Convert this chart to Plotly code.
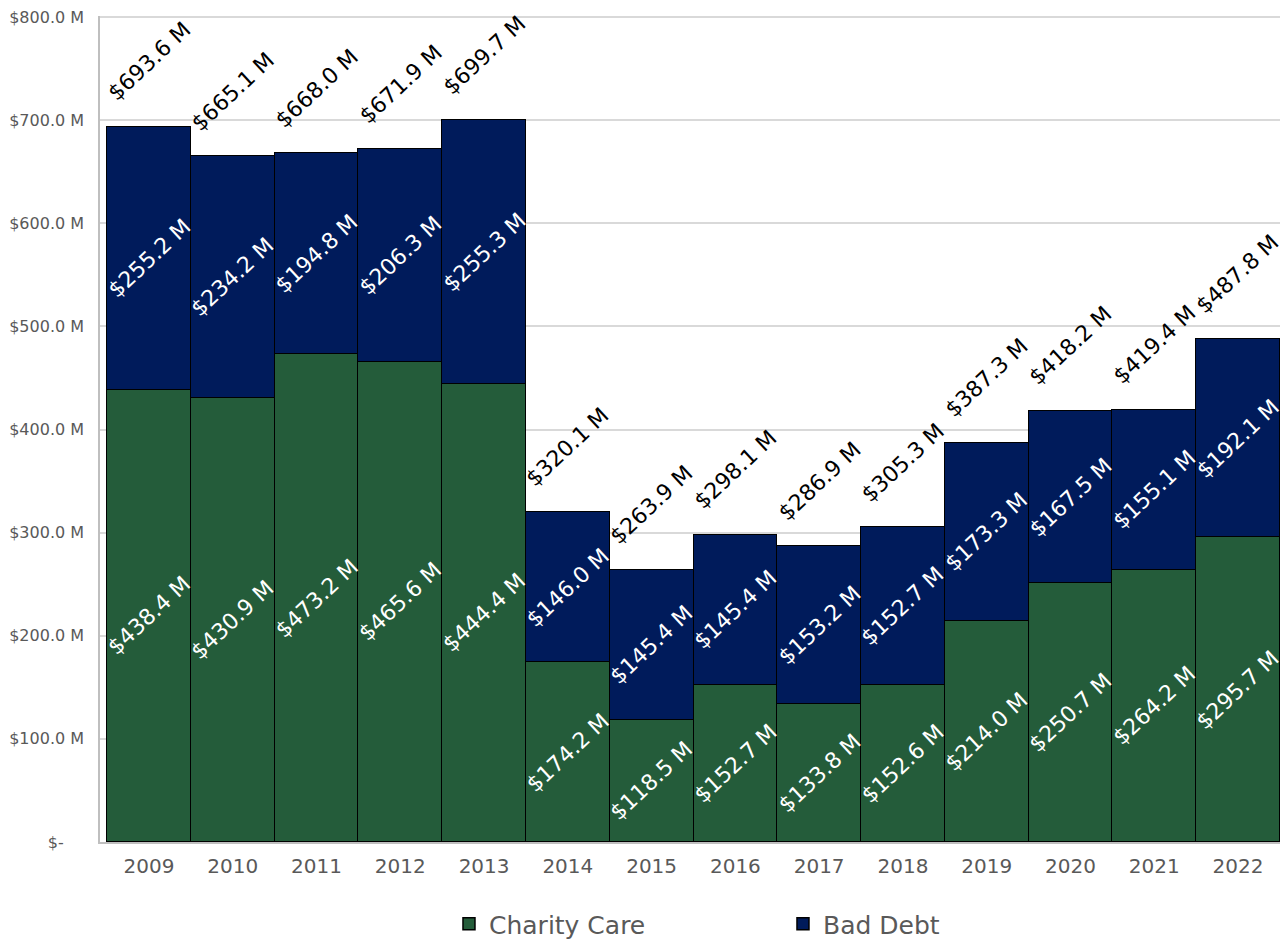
import plotly.graph_objects as go

years = ["2009", "2010", "2011", "2012", "2013", "2014", "2015", "2016",
         "2017", "2018", "2019", "2020", "2021", "2022"]
charity_care = [438.4, 430.9, 473.2, 465.6, 444.4, 174.2, 118.5, 152.7,
                133.8, 152.6, 214.0, 250.7, 264.2, 295.7]
bad_debt = [255.2, 234.2, 194.8, 206.3, 255.3, 146.0, 145.4, 145.4,
            153.2, 152.7, 173.3, 167.5, 155.1, 192.1]
totals = [693.6, 665.1, 668.0, 671.9, 699.7, 320.1, 263.9, 298.1,
          286.9, 305.3, 387.3, 418.2, 419.4, 487.8]
tick_vals = [0, 100, 200, 300, 400, 500, 600, 700, 800]
tick_text = ["$-\u2007\u2007", "$100.0 M", "$200.0 M", "$300.0 M", "$400.0 M",
             "$500.0 M", "$600.0 M", "$700.0 M", "$800.0 M"]

GREEN = "#245C3A"
NAVY = "#001B5B"
FONT = "DejaVu Sans"
ANGLE = -43
LBL = 22

fig = go.Figure()
fig.add_trace(go.Bar(x=years, y=charity_care, name="Charity Care",
                     marker=dict(color=GREEN, line=dict(color="#000000", width=1.5))))
fig.add_trace(go.Bar(x=years, y=bad_debt, name="Bad Debt",
                     marker=dict(color=NAVY, line=dict(color="#000000", width=1.5))))

annotations = []
for i, yr in enumerate(years):
    annotations.append(dict(x=i, y=charity_care[i] / 2, text=f"${charity_care[i]:.1f} M",
                            showarrow=False, textangle=ANGLE,
                            font=dict(family=FONT, size=LBL, color="white"),
                            xanchor="center", yanchor="middle"))
    annotations.append(dict(x=i, y=charity_care[i] + bad_debt[i] / 2, text=f"${bad_debt[i]:.1f} M",
                            showarrow=False, textangle=ANGLE,
                            font=dict(family=FONT, size=LBL, color="white"),
                            xanchor="center", yanchor="middle"))
    annotations.append(dict(x=i, y=totals[i], text=f"${totals[i]:.1f} M",
                            showarrow=False, textangle=ANGLE,
                            font=dict(family=FONT, size=LBL, color="black"),
                            xanchor="center", yanchor="bottom", yshift=18))

fig.update_layout(
    width=1280, height=939,
    barmode="stack", bargap=0,
    paper_bgcolor="white", plot_bgcolor="white",
    margin=dict(l=92, r=1, t=8, b=105),
    font=dict(family=FONT, color="#595959"),
    showlegend=True,
    legend=dict(orientation="h", x=0.294, xanchor="left",
                yref="container", y=0.0, yanchor="bottom",
                font=dict(family=FONT, size=25, color="#595959"),
                entrywidth=289, entrywidthmode="pixels", traceorder="normal"),
    annotations=annotations,
)
fig.update_xaxes(type="category", showline=True, linecolor="#BFBFBF", linewidth=1.5,
                 tickfont=dict(family=FONT, size=20, color="#595959"),
                 ticks="", ticklabelstandoff=5, automargin=False)
fig.update_yaxes(range=[0, 801], tickvals=tick_vals, ticktext=tick_text,
                 showgrid=True, gridcolor="#D9D9D9", gridwidth=1.5,
                 showline=True, linecolor="#BFBFBF", linewidth=1.5,
                 zeroline=False, automargin=False, ticklabeloverflow="allow",
                 tickfont=dict(family=FONT, size=16, color="#595959"),
                 ticks="", ticklabelstandoff=11)

fig.write_html("out.html")
